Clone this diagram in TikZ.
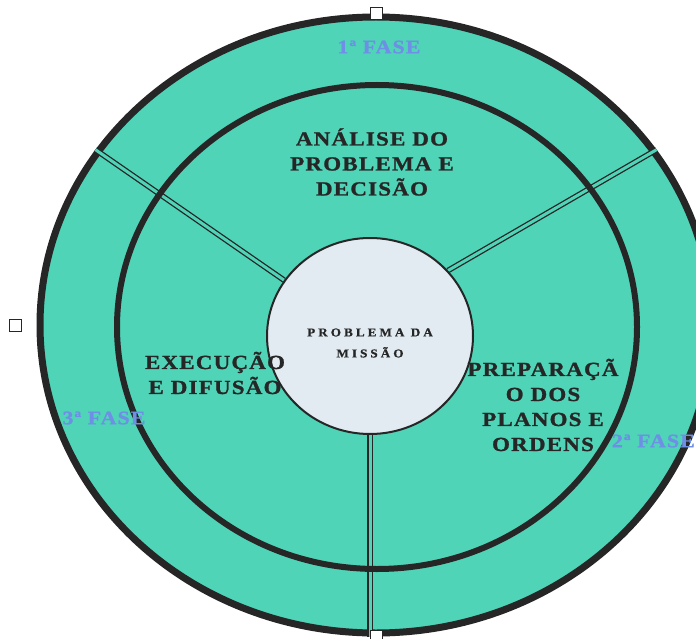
\documentclass[tikz,border=0pt]{standalone}
\usepackage{fontspec}
\newfontfamily\ringfont[FakeStretch=1.15,LetterSpace=6,FakeBold=1.2]{Liberation Serif}
\newfontfamily\corefont[FakeStretch=1.1,LetterSpace=25,FakeBold=0.8]{Liberation Serif}
\usetikzlibrary{shapes.geometric,positioning}
\pgfdeclarelayer{back}
\pgfsetlayers{back,main}
\definecolor{lagoon}{HTML}{4FD4B8}
\definecolor{mist}{HTML}{E2EBF2}
\definecolor{ink}{HTML}{262626}
\definecolor{fasetint}{HTML}{6F8FE6}
\tikzset{
  ringshape/.style={
    ellipse, draw=ink, inner sep=0pt, line width=#1
  },
  ringshape/.default=6pt,
  divider/.style={
    draw=ink, double=lagoon, double distance=3pt, line width=1.3pt
  },
  handle/.style={
    rectangle, draw=ink, fill=white, line width=1pt,
    minimum size=12pt, inner sep=0pt
  },
  ringtext/.style={
    font=\ringfont\bfseries\fontsize{20}{25}\selectfont,
    text=ink, align=center, inner sep=0pt
  },
  fasetext/.style={
    font=\ringfont\bfseries\fontsize{19}{22}\selectfont,
    text=fasetint, inner sep=0pt
  },
  coretext/.style={
    font=\corefont\bfseries\fontsize{12}{21}\selectfont,
    text=ink, align=center, inner sep=0pt
  },
}

\begin{document}
\begin{tikzpicture}[x=1pt, y=-1pt]
  \useasboundingbox (0,0) rectangle (696,639);
  \clip (0,0) rectangle (696,639);
  % rings
  \node[ringshape, minimum width=520pt, minimum height=484pt] (inner) at (377,327) {};
  \node[ringshape=2pt, fill=mist, minimum width=206pt, minimum height=196pt] (core) at (370,336) {};
  \begin{pgfonlayer}{back}
    \node[ringshape=7pt, fill=lagoon, minimum width=672pt, minimum height=616pt] (outer) at (376,325) {};
    % dividers between the phases
    \draw[divider] (core.147) -- (outer.148);
    \draw[divider] (core.40) -- (outer.32);
    \draw[divider] (core.south) -- (core.south |- outer.south);
  \end{pgfonlayer}
  % selection handles
  \node[handle] (htop) at (outer.north) {};
  \node[handle, left=15pt of outer.west] (hleft) {};
  \node[handle] (hbottom) at (outer.south) {};
  % texts
  \node[coretext] (problema) at (370,343) {PROBLEMA DA\\MISSÃO};
  \node[ringtext] (analise) at (372,162) {ANÁLISE DO\\PROBLEMA E\\DECISÃO};
  \node[ringtext] (execucao) at (215,373) {EXECUÇÃO\\E DIFUSÃO};
  \node[ringtext] (preparacao) at (543,405) {PREPARAÇÃ\\O DOS\\PLANOS E\\ORDENS};
  \node[fasetext] (fase1) at (379,47) {1ª FASE};
  \node[fasetext, anchor=east] (fase2) at (695,441) {2ª FASE};
  \node[fasetext] (fase3) at (104,418) {3ª FASE};
\end{tikzpicture}
\end{document}
